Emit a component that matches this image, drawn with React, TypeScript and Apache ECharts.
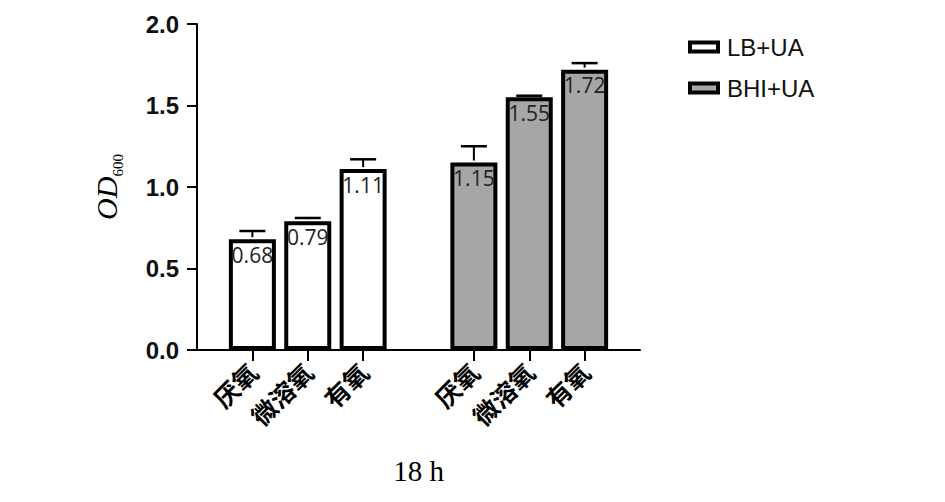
import React, { useEffect, useRef } from "react";
import * as echarts from "echarts";

const categories = ["", "厌氧", "微溶氧", "有氧", "", "厌氧", "微溶氧", "有氧", ""];
const lbValues = [null, 0.68, 0.79, 1.11, null, null, null, null, null];
const bhiValues = [null, null, null, null, null, 1.15, 1.55, 1.72, null];
const errTops = [null, 0.73, 0.81, 1.17, null, 1.25, 1.56, 1.76, null];
const yTicks = { min: 0, max: 2, interval: 0.5 };
const seriesNames = ["LB+UA", "BHI+UA"];

export default function App() {
  const ref = useRef<HTMLDivElement>(null);
  useEffect(() => {
    if (!ref.current) return;
    const chart = echarts.init(ref.current, null, { renderer: "svg" });
    const allVals = categories.map((_, i) => (lbValues[i] ?? bhiValues[i]) as number | null);
    const errData = categories
      .map((_, i) => (allVals[i] != null && errTops[i] != null ? [i, allVals[i], errTops[i]] : null))
      .filter((d) => d != null);
    const labelStyle = {
      show: true,
      position: "insideTop",
      distance: 5,
      fontSize: 21,
      fontFamily: "Open Sans",
      color: "#222",
      formatter: (p: any) => Number(p.value).toFixed(2),
    };
    chart.setOption({
      animation: false,
      backgroundColor: "#fff",
      grid: { left: 197, right: 305, top: 24, bottom: 152 },
      legend: {
        orient: "vertical",
        left: 683,
        top: 30,
        icon: "rect",
        itemWidth: 28,
        itemHeight: 9,
        itemGap: 17,
        itemStyle: { borderWidth: 4, borderColor: "#000" },
        data: seriesNames,
        textStyle: { fontSize: 24, fontFamily: "Liberation Sans", color: "#111", padding: [0, 0, 0, 4] },
      },
      xAxis: {
        type: "category",
        data: categories,
        boundaryGap: false,
        name: "18 h",
        nameLocation: "middle",
        nameGap: 106,
        nameTextStyle: { fontFamily: "Liberation Serif", fontSize: 29, color: "#000" },
        axisLine: { lineStyle: { color: "#000", width: 2 } },
        axisTick: {
          length: 11,
          interval: (i: number, v: string) => v !== "",
          lineStyle: { color: "#000", width: 2 },
        },
        axisLabel: {
          interval: 0,
          rotate: 45,
          margin: 17,
          fontSize: 25,
          fontWeight: "bold",
          fontFamily: "Noto Sans CJK SC",
          color: "#000",
        },
        splitLine: { show: false },
      },
      yAxis: {
        type: "value",
        min: yTicks.min,
        max: yTicks.max,
        interval: yTicks.interval,
        name: "{a|OD}{b|600}",
        nameLocation: "middle",
        nameGap: 76,
        nameTextStyle: {
          rich: {
            a: { fontFamily: "Liberation Serif", fontStyle: "italic", fontSize: 30, color: "#000" },
            b: { fontFamily: "Liberation Serif", fontSize: 15, color: "#000", verticalAlign: "bottom", padding: [0, 0, -4, 0] },
          },
        },
        axisLine: { show: true, lineStyle: { color: "#000", width: 2 } },
        axisTick: { show: true, length: 10, lineStyle: { color: "#000", width: 2 } },
        axisLabel: {
          fontSize: 24,
          fontWeight: "bold",
          fontFamily: "Liberation Sans",
          color: "#111",
          margin: 18,
          formatter: (v: number) => v.toFixed(1),
        },
        splitLine: { show: false },
      },
      series: [
        {
          name: seriesNames[0],
          type: "bar",
          data: lbValues,
          barWidth: 47,
          barGap: "-100%",
          itemStyle: { color: "#ffffff", borderColor: "#000", borderWidth: 4 },
          label: labelStyle,
        },
        {
          name: seriesNames[1],
          type: "bar",
          data: bhiValues,
          barWidth: 47,
          barGap: "-100%",
          itemStyle: { color: "#a6a6a6", borderColor: "#000", borderWidth: 4 },
          label: labelStyle,
        },
        {
          type: "custom",
          z: 5,
          data: errData,
          encode: { x: 0, y: [1, 2] },
          renderItem: (params: any, api: any) => {
            const x = api.value(0);
            const lo = api.coord([x, api.value(1)]);
            const hi = api.coord([x, api.value(2)]);
            const w = 26;
            return {
              type: "group",
              children: [
                {
                  type: "line",
                  shape: { x1: lo[0], y1: lo[1] - 2, x2: hi[0], y2: hi[1] },
                  style: { stroke: "#000", lineWidth: 2 },
                },
                {
                  type: "line",
                  shape: { x1: hi[0] - w / 2, y1: hi[1], x2: hi[0] + w / 2, y2: hi[1] },
                  style: { stroke: "#000", lineWidth: 2.5 },
                },
              ],
            };
          },
        },
      ],
    });
    return () => chart.dispose();
  }, []);
  return <div ref={ref} style={{ width: 945, height: 502, margin: -8 }} />;
}
